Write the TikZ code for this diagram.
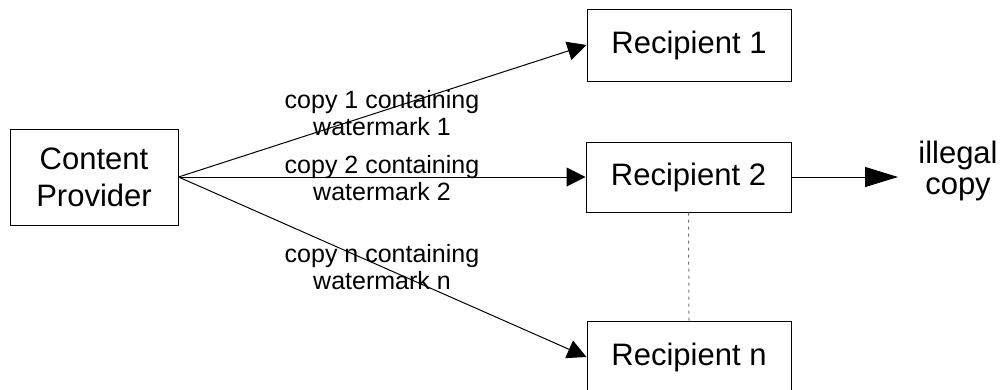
\documentclass[tikz,border=0pt]{standalone}
\usepackage{fontspec}
\setmainfont{Liberation Sans}
\usetikzlibrary{arrows.meta}

\tikzset{
  party/.style={draw=black, line width=1pt, minimum width=204pt, minimum height=72pt,
    inner sep=0pt, font=\fontsize{31}{37}\selectfont, align=center},
  flow/.style={draw=black, line width=1pt, -{Triangle[length=19pt,width=19pt]}},
  leak/.style={draw=black, line width=1pt, -{Triangle[length=33pt,width=20pt]}},
  copylabel/.style={font=\fontsize{25}{27}\selectfont, align=center, inner sep=0pt},
  link/.style={draw=black!55, line width=1pt, dash pattern=on 3pt off 4pt}
}

\begin{document}
\begin{tikzpicture}[x=1pt,y=1pt]
  \clip (0,0) rectangle (1002,-389);
  \useasboundingbox (0,0) rectangle (1002,-389);

  % parties
  \node[party, minimum width=168pt, minimum height=96pt] (cp) at (94,-177) {Content\\Provider};
  \node[party] (r1) at (689,-45)  {Recipient 1};
  \node[party, minimum width=205pt, minimum height=70pt] (r2) at (688.5,-177) {Recipient 2};
  \node[party] (rn) at (689,-357) {Recipient n};

  % the leaked copy
  \node[font=\fontsize{31}{31}\selectfont, align=center, inner sep=0pt] (leak) at (958,-171) {illegal\\copy};
  \coordinate (leakin) at (898,-177);

  % distribution of marked copies
  \draw[flow] (cp.east) -- (r1.west);
  \draw[flow] (cp.east) -- (r2.west);
  \draw[flow] (cp.east) -- (rn.west);
  \draw[leak] (r2.east) -- (leakin);
  \draw[link] (r2.south) -- (rn.north);

  % copy labels
  \node[copylabel] (l1) at (382,-113) {copy 1 containing\\watermark 1};
  \node[copylabel] (l2) at (382,-178) {copy 2 containing\\watermark 2};
  \node[copylabel] (ln) at (382,-267) {copy n containing\\watermark n};
\end{tikzpicture}
\end{document}
